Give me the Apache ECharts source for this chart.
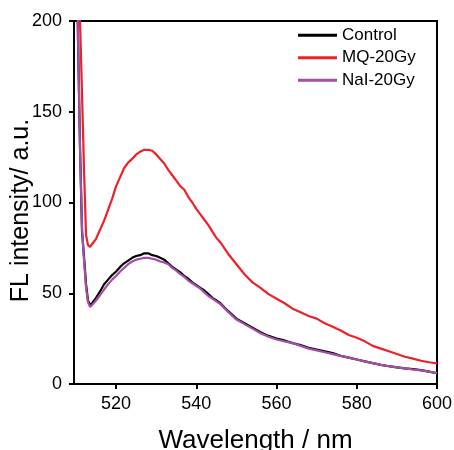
<!DOCTYPE html>
<html>
<head>
<meta charset="utf-8">
<script src="https://cdn.jsdelivr.net/npm/echarts@6/dist/echarts.min.js"></script>
<style>html,body{margin:0;padding:0;background:#fff;}#c{width:454px;height:450px;}</style>
</head>
<body>
<div id="c"></div>
<script>
const seriesNames = ['Control', 'MQ-20Gy', 'NaI-20Gy'];
const wavelength = [510, 510.5, 511, 511.5, 512, 512.5, 513, 513.5, 514, 515, 516, 517, 518, 519, 520, 521, 522, 523, 524, 525, 526, 527, 528, 529, 530, 531, 532, 533, 534, 535, 536, 537, 538, 539, 540, 541, 542, 543, 544, 545, 546, 548, 550, 552, 554, 556, 558, 560, 562, 564, 566, 568, 570, 572, 574, 576, 578, 580, 582, 584, 586, 588, 590, 592, 594, 596, 598, 600];
const control = [270, 190, 130, 84, 70, 55, 46, 43.4, 44.5, 47.5, 51, 55, 57.5, 60, 62, 64.5, 66.5, 68, 69.5, 70.5, 71, 72, 72, 71, 70.5, 69.5, 68.5, 66.5, 64.5, 63, 61.5, 59.5, 58, 56, 54.5, 53, 51.5, 49.5, 47.5, 46, 44.5, 40, 36, 33.5, 31, 28.5, 26.5, 25, 24, 22.5, 21.5, 20, 19, 18, 17, 15.5, 14.5, 13.5, 12.5, 11.5, 10.5, 9.8, 9.2, 8.6, 8.2, 7.6, 6.8, 5.9];
const mq20 = [290, 245, 200, 160, 118, 82, 76.5, 75.5, 77, 80, 85, 90, 96, 102, 109, 114, 119, 122, 124, 126.5, 128, 129, 129, 128.5, 126.5, 124, 121.5, 118, 115, 112, 109, 107, 103, 100, 96.5, 93.5, 90.5, 87.5, 84, 80.5, 78, 71.5, 66, 60.5, 56, 53, 49.5, 47, 44.5, 41.5, 39.5, 37.5, 36, 33.5, 31.5, 29.5, 27, 25.5, 23.5, 21, 19.5, 18, 16.5, 15, 14, 12.8, 12, 11.4];
const nai20 = [270, 190, 130, 86, 68, 53, 45, 42.5, 43.5, 46, 49, 52, 55, 57.5, 59.5, 62, 64, 66, 67.5, 68.5, 69, 69.5, 69.5, 69, 68.5, 67.5, 67, 66, 64, 62.5, 60.5, 59, 57, 55.5, 54, 52.5, 50.5, 48.5, 47, 45.5, 44, 39.5, 35.5, 33, 30.5, 28, 26, 24.5, 23.5, 22.5, 21, 19.5, 18.5, 17.5, 16.5, 15.5, 14.5, 13.5, 12.5, 11.5, 10.5, 9.8, 9.2, 8.6, 8, 7.5, 6.8, 6];
const xTicks = [520, 540, 560, 580, 600];
const yTicks = [0, 50, 100, 150, 200];
const colors = ['#000000', '#EE2028', '#A44EA8'];

const FONT = '"Liberation Sans", Arial, sans-serif';
const pair = (ys) => wavelength.map((w, i) => [w, ys[i]]);
const allValues = [control, mq20, nai20];

const chart = echarts.init(document.getElementById('c'), null, {renderer: 'canvas'});
chart.setOption({
  animation: false,
  backgroundColor: '#fff',
  grid: {left: 74, right: 17, top: 21, bottom: 66, show: true, borderColor: '#000', borderWidth: 2, backgroundColor: 'transparent', containLabel: false, outerBoundsMode: 'none'},
  legend: {
    orient: 'vertical', left: 293, top: 19, itemWidth: 39, itemHeight: 3, itemGap: 0, padding: 5,
    icon: 'rect',
    textStyle: {fontFamily: FONT, fontSize: 17, color: '#000', lineHeight: 22.5},
    data: seriesNames
  },
  xAxis: {
    type: 'value', min: 509.5, max: 600,
    name: 'Wavelength / nm', nameLocation: 'middle', nameGap: 44, nameMoveOverlap: false,
    nameTextStyle: {fontFamily: FONT, fontSize: 26, color: '#000'},
    axisLine: {show: true, lineStyle: {color: '#000', width: 2}},
    axisTick: {show: true, inside: false, length: 5, lineStyle: {color: '#000', width: 2}, customValues: xTicks},
    axisLabel: {fontFamily: FONT, fontSize: 18, color: '#000', margin: 11, customValues: xTicks},
    splitLine: {show: false}
  },
  yAxis: {
    type: 'value', min: 0, max: 200, interval: 50,
    name: 'FL intensity/ a.u.', nameLocation: 'middle', nameGap: 40, nameRotate: 90, nameMoveOverlap: false,
    nameTextStyle: {fontFamily: FONT, fontSize: 25, color: '#000', padding: [0, 16, 0, 0]},
    axisLine: {show: true, lineStyle: {color: '#000', width: 2}},
    axisTick: {show: true, inside: false, length: 5, lineStyle: {color: '#000', width: 2}, customValues: yTicks},
    axisLabel: {fontFamily: FONT, fontSize: 18, color: '#000', margin: 12, customValues: yTicks},
    splitLine: {show: false}
  },
  series: seriesNames.map((n, i) => ({
    name: n, type: 'line', data: pair(allValues[i]), symbol: 'none', showSymbol: false,
    clip: true, smooth: false, z: i === 2 ? 4 : (i === 0 ? 3 : 2),
    lineStyle: {color: colors[i], width: 2.2}, itemStyle: {color: colors[i]}
  }))
});
</script>
</body>
</html>
